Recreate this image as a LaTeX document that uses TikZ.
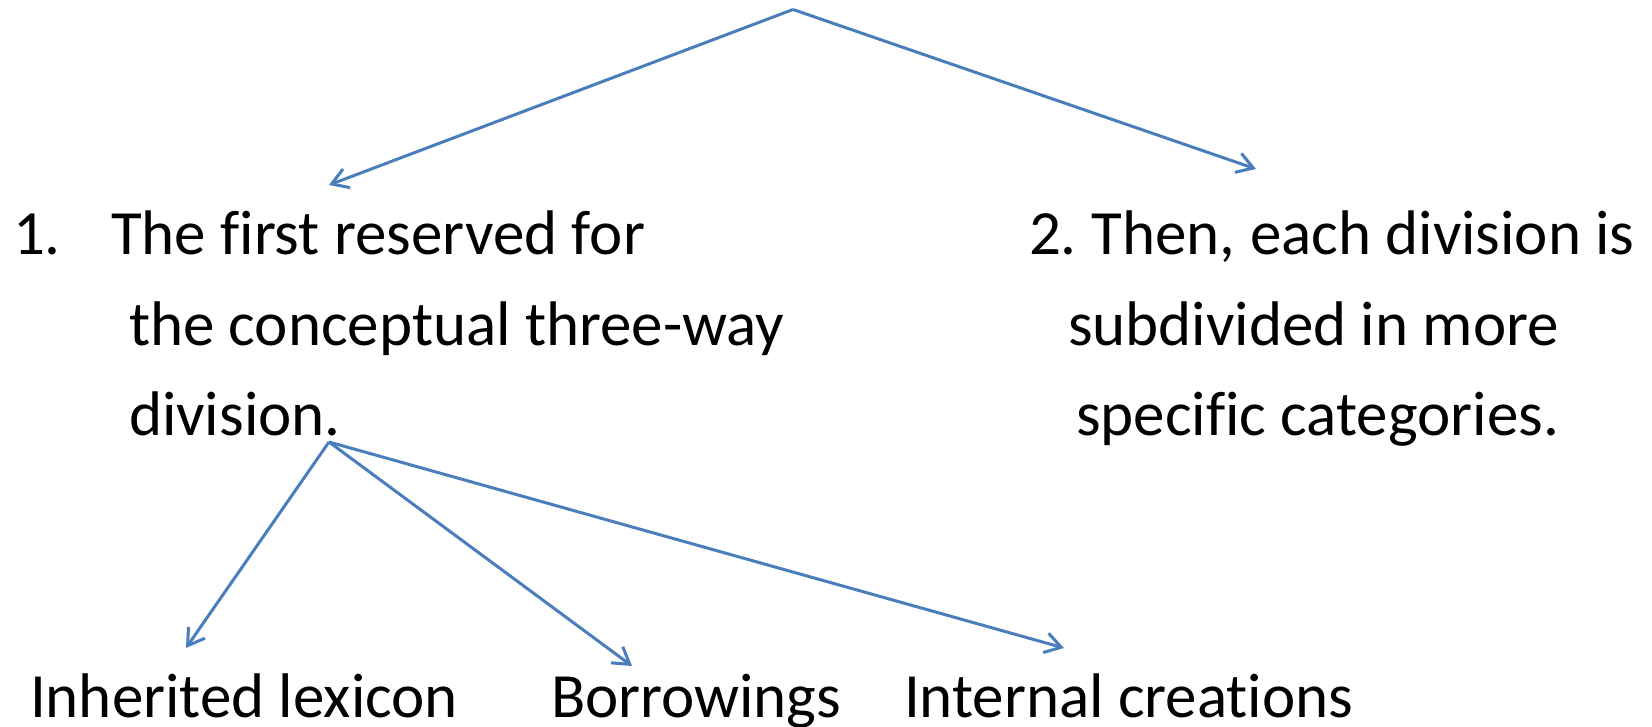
\documentclass[tikz,border=0pt]{standalone}
\usepackage{fontspec}
\setmainfont{Carlito}[Ligatures=NoCommon]
\usetikzlibrary{arrows.meta}
\definecolor{lineblue}{RGB}{74,126,187}
\begin{document}
\begin{tikzpicture}[x=1pt,y=-1pt,
  txt/.style={anchor=base west,inner sep=0pt,outer sep=0pt,font=\fontsize{63}{75}\selectfont},
  conn/.style={draw=lineblue,line width=3pt,-{Straight Barb[length=16pt,width=20pt,line width=3pt]}}]
\useasboundingbox (0,0) rectangle (1652,727);
% coordinates
\coordinate (top) at (793,9.5);
\coordinate (tipL) at (329,185);
\coordinate (tipR) at (1256,169);
\coordinate (apex) at (329,442);
\coordinate (tipA) at (186,648);
\coordinate (tipB) at (632,666);
\coordinate (tipC) at (1064,648);
% texts
\node[txt] (n1) at (13,255) {1.};
\node[txt] (l1) at (111,255) {The first reserved for};
\node[txt] (l2) at (129,345) {the conceptual three-way};
\node[txt] (l3) at (129,435) {division.};
\node[txt] (r1) at (1029,255) {2.\kern-4pt{} Then, each division is};
\node[txt] (r2) at (1068,345) {subdivided in more};
\node[txt] (r3) at (1076,435) {specific categories.};
\node[txt] (b1) at (30,717) {Inherited lexicon};
\node[txt] (b2) at (551,717) {Borrowings};
\node[txt] (b3) at (904,717) {Internal creations};
% connectors
\draw[conn] (top) -- (tipL);
\draw[conn] (top) -- (tipR);
\draw[conn] (apex) -- (tipA);
\draw[conn] (apex) -- (tipB);
\draw[conn] (apex) -- (tipC);
\end{tikzpicture}
\end{document}
